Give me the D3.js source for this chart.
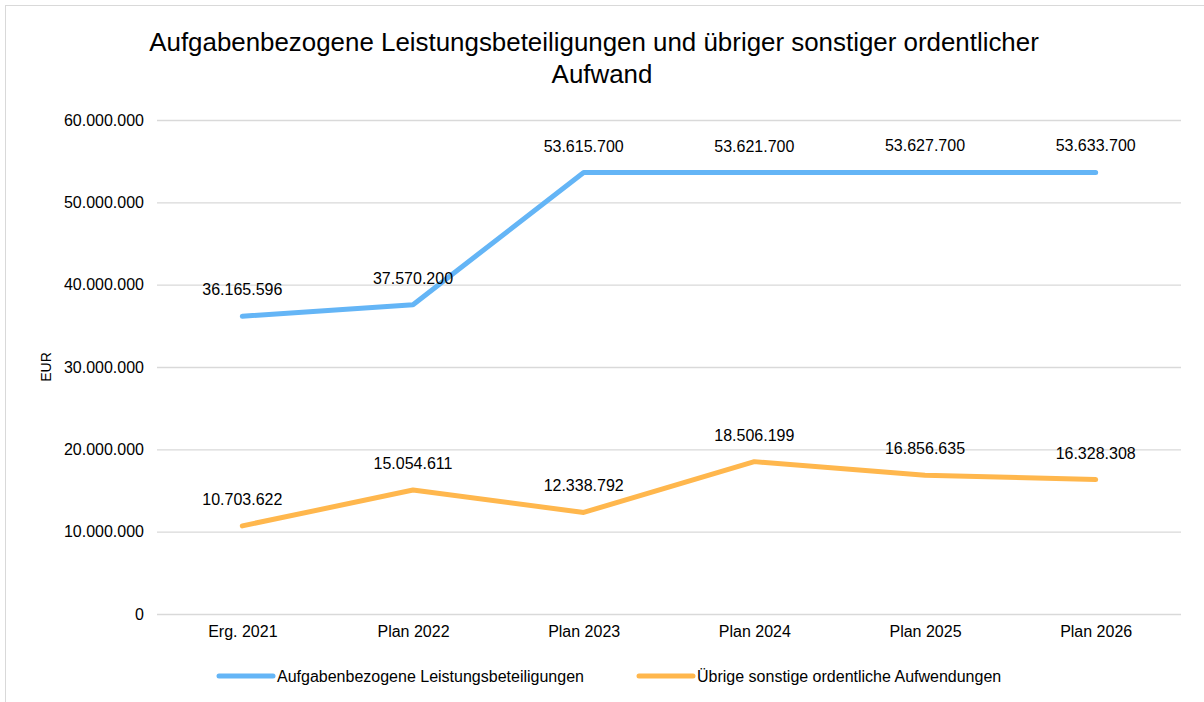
<!DOCTYPE html>
<html>
<head>
<meta charset="utf-8">
<script src="https://cdn.jsdelivr.net/npm/d3@7"></script>
<style>
  body { margin: 0; background: #fff; }
  svg { font-family: "Liberation Sans", Arial, sans-serif; }
</style>
</head>
<body>
<div id="chart"></div>
<script>
const width = 1204;
const height = 702;

const categories = ["Erg. 2021", "Plan 2022", "Plan 2023", "Plan 2024", "Plan 2025", "Plan 2026"];
const leistungValues = [36165596, 37570200, 53615700, 53621700, 53627700, 53633700];
const uebrigeValues = [10703622, 15054611, 12338792, 18506199, 16856635, 16328308];
const yTicks = [0, 10000000, 20000000, 30000000, 40000000, 50000000, 60000000];
const titleLines = ["Aufgabenbezogene Leistungsbeteiligungen und übriger sonstiger ordentlicher", "Aufwand"];

const series = [
  { name: "Aufgabenbezogene Leistungsbeteiligungen", color: "#64b5f6", values: leistungValues },
  { name: "Übrige sonstige ordentliche Aufwendungen", color: "#ffb74d", values: uebrigeValues }
];

const plot = { left: 157, right: 1181, top: 120, bottom: 614 };
const labelSize = 16;

const fmt = d3.formatLocale({ decimal: ",", thousands: ".", grouping: [3], currency: ["", " €"] }).format(",.0f");

const x = d3.scalePoint(categories, [plot.left, plot.right]).padding(0.5);
const y = d3.scaleLinear([0, 60000000], [plot.bottom, plot.top]);

const svg = d3.select("#chart").append("svg")
  .attr("width", width)
  .attr("height", height);

// outer chart border (runs off right/bottom edge)
svg.append("rect")
  .attr("x", 5.5).attr("y", 5.5)
  .attr("width", width + 10).attr("height", height + 10)
  .attr("fill", "none")
  .attr("stroke", "#d9d9d9");

// title: two wrapped lines, each placed on its own centre
const titlePos = [{ cx: 594, y: 51 }, { cx: 602, y: 83 }];
svg.append("text")
  .attr("text-anchor", "middle")
  .attr("font-size", 25.9)
  .attr("fill", "#000")
  .selectAll("tspan")
  .data(titleLines)
  .join("tspan")
  .attr("x", (d, i) => titlePos[i].cx)
  .attr("y", (d, i) => titlePos[i].y)
  .text(d => d);

// gridlines + y labels
const yAxis = d3.axisLeft(y).tickValues(yTicks).tickFormat(fmt).tickSize(-(plot.right - plot.left)).tickPadding(13);
svg.append("g")
  .attr("transform", `translate(${plot.left},0)`)
  .call(yAxis)
  .call(g => g.select(".domain").remove())
  .call(g => g.selectAll(".tick line").attr("stroke", "#d9d9d9").attr("stroke-width", 1.3))
  .call(g => g.selectAll(".tick text").attr("font-size", labelSize).attr("fill", "#000").attr("font-family", "Liberation Sans, Arial, sans-serif"));

const xAxis = d3.axisBottom(x).tickSize(0).tickPadding(12);
svg.append("g")
  .attr("transform", `translate(0,${plot.bottom})`)
  .call(xAxis)
  .call(g => g.select(".domain").remove())
  .call(g => g.selectAll(".tick text").attr("font-size", labelSize).attr("fill", "#000").attr("font-family", "Liberation Sans, Arial, sans-serif"));

svg.append("text")
  .attr("transform", `translate(51,${(plot.top + plot.bottom) / 2}) rotate(-90)`)
  .attr("text-anchor", "middle")
  .attr("font-size", 14)
  .text("EUR");

const line = d3.line()
  .x((v, i) => x(categories[i]))
  .y(v => y(v));

svg.selectAll(".series")
  .data(series)
  .join("path")
  .attr("class", "series")
  .attr("fill", "none")
  .attr("stroke", d => d.color)
  .attr("stroke-width", 5)
  .attr("stroke-linecap", "round")
  .attr("stroke-linejoin", "round")
  .attr("d", d => line(d.values));

svg.selectAll(".labels")
  .data(series)
  .join("g")
  .attr("class", "labels")
  .selectAll("text")
  .data(d => d.values)
  .join("text")
  .attr("x", (v, i) => x(categories[i]))
  .attr("y", v => y(v) - 21)
  .attr("text-anchor", "middle")
  .attr("font-size", labelSize)
  .text(v => fmt(v));

// legend
const legendItems = [
  { x0: 219, x1: 273 },
  { x0: 639, x1: 693 }
];
const legend = svg.selectAll(".legend")
  .data(series)
  .join("g")
  .attr("class", "legend");
legend.append("line")
  .attr("x1", (d, i) => legendItems[i].x0)
  .attr("x2", (d, i) => legendItems[i].x1)
  .attr("y1", 676).attr("y2", 676)
  .attr("stroke", d => d.color)
  .attr("stroke-width", 5)
  .attr("stroke-linecap", "round");
legend.append("text")
  .attr("x", (d, i) => legendItems[i].x1 + 4)
  .attr("y", 676)
  .attr("dy", "0.35em")
  .attr("font-size", labelSize)
  .text(d => d.name);
</script>
</body>
</html>
